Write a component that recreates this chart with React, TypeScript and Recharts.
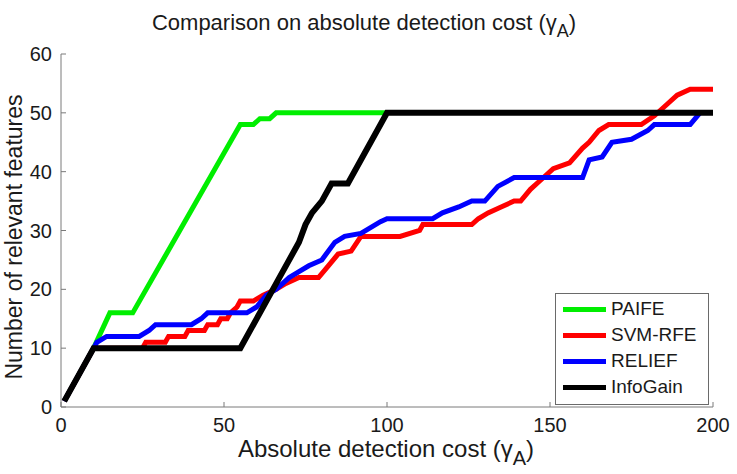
import { LineChart, Line, XAxis, YAxis, Legend } from 'recharts';

const xTicks = [0, 50, 100, 150, 200];
const yTicks = [0, 10, 20, 30, 40, 50, 60];

const seriesNames = ['PAIFE', 'SVM-RFE', 'RELIEF', 'InfoGain'];
const seriesColors = ['#00ee00', '#ff0000', '#0000ff', '#000000'];

// [cost, number of relevant features]
const paife: [number, number][] = [
  [1, 1], [10, 10], [15, 16], [22, 16], [55, 48], [59, 48], [61, 49], [64, 49], [66, 50], [100, 50],
];

const svmRfe: [number, number][] = [
  [1, 1], [10, 10], [25, 10], [26, 11], [32, 11], [33, 12], [38, 12], [39, 13], [44, 13], [45, 14],
  [48, 14], [49, 15], [51, 15], [52, 16], [54, 17], [55, 18], [59, 18], [62, 19], [66, 20], [69, 21],
  [73, 22], [79, 22], [82, 24], [85, 26], [89, 26.5], [92, 29], [104, 29], [110, 30], [111, 31],
  [126, 31], [128, 32], [131, 33], [135, 34], [139, 35], [141, 35], [144, 37], [147, 38.5],
  [151, 40.5], [156, 41.5], [160, 44], [162, 45], [165, 47], [168, 48], [178, 48], [182, 49.5],
  [186, 51.5], [189, 53], [193, 54], [200, 54],
];

const relief: [number, number][] = [
  [1, 1], [10, 10], [11, 11], [14, 12], [24, 12], [27, 13], [29, 14], [40, 14], [43, 15], [45, 16],
  [57, 16], [60, 17], [63, 19], [66, 20], [70, 22], [73, 23], [76, 24], [80, 25], [84, 28], [87, 29],
  [92, 29.5], [98, 31.5], [100, 32], [114, 32], [117, 33], [122, 34], [126, 35], [130, 35],
  [134, 37.5], [139, 39], [160, 39], [162, 42], [166, 42.5], [169, 45], [175, 45.5], [180, 47],
  [182, 48], [193, 48], [196, 50],
];

const infoGain: [number, number][] = [
  [1, 1], [10, 10], [55, 10], [65, 20], [73, 28], [75, 31], [77, 33], [80, 35], [83, 38], [88, 38],
  [93, 43], [100, 50], [200, 50],
];

const allSeries = [paife, svmRfe, relief, infoGain];
const toRows = (pts: [number, number][]) => pts.map(([x, y]) => ({ x, y }));

const FONT = '"Liberation Sans", Arial, Helvetica, sans-serif';
const axisColor = '#7a7a7a';
const tickStyle = { fontSize: 20, fill: '#1a1a1a', fontFamily: FONT };

function LegendBox() {
  return (
    <div
      style={{
        border: '1px solid #6a6a6a',
        background: '#fff',
        width: 152,
        height: 108,
        paddingTop: 2,
        boxSizing: 'content-box',
        fontFamily: FONT,
      }}
    >
      {seriesNames.map((name, i) => (
        <div key={name} style={{ display: 'flex', alignItems: 'center', height: 26 }}>
          <div style={{ width: 43, height: 5, background: seriesColors[i], marginLeft: 7, marginRight: 5 }} />
          <span style={{ fontSize: 19, color: '#1a1a1a' }}>{name}</span>
        </div>
      ))}
    </div>
  );
}

export default function App() {
  return (
    <div style={{ position: 'absolute', left: 0, top: 0, width: 737, height: 474, background: '#fff' }}>
      <LineChart width={737} height={474} margin={{ top: 54, right: 24, bottom: 17, left: 11 }}>
        <XAxis
          xAxisId="b"
          type="number"
          dataKey="x"
          domain={[0, 200]}
          ticks={xTicks}
          height={50}
          tickSize={-5}
          tickMargin={16}
          stroke={axisColor}
          tick={tickStyle}
          allowDuplicatedCategory={false}
        />
        <XAxis
          xAxisId="t"
          orientation="top"
          type="number"
          dataKey="x"
          domain={[0, 200]}
          ticks={xTicks}
          height={0}
          tickSize={-5}
          stroke={axisColor}
          tickFormatter={() => ''}
        />
        <YAxis
          yAxisId="l"
          type="number"
          domain={[0, 60]}
          ticks={yTicks}
          width={50}
          tickSize={-5}
          tickMargin={14}
          stroke={axisColor}
          tick={tickStyle}
        />
        <YAxis
          yAxisId="r"
          orientation="right"
          type="number"
          domain={[0, 60]}
          ticks={yTicks}
          width={0}
          tickSize={-5}
          stroke={axisColor}
          tickFormatter={() => ''}
        />
        {allSeries.map((pts, i) => (
          <Line
            key={seriesNames[i]}
            xAxisId="b"
            yAxisId="l"
            data={toRows(pts)}
            dataKey="y"
            name={seriesNames[i]}
            stroke={seriesColors[i]}
            strokeWidth={i === 3 ? 6 : 5}
            dot={false}
            activeDot={false}
            isAnimationActive={false}
          />
        ))}
        <Legend
          layout="vertical"
          align="center"
          verticalAlign="middle"
          content={() => <LegendBox />}
          wrapperStyle={{ left: 555, top: 293, width: 154, height: 111 }}
        />
      </LineChart>
      <svg
        width={737}
        height={474}
        style={{ position: 'absolute', left: 0, top: 0, pointerEvents: 'none' }}
        fontFamily={FONT}
        fill="#1a1a1a"
      >
        <text x={364} y={30} fontSize={22} textAnchor="middle">
          Comparison on absolute detection cost (γ
          <tspan fontSize={18} dy={7}>A</tspan>
          <tspan dy={-7}>)</tspan>
        </text>
        <text x={386} y={457} fontSize={24} textAnchor="middle">
          Absolute detection cost (γ
          <tspan fontSize={20} dy={8}>A</tspan>
          <tspan dy={-8}>)</tspan>
        </text>
        <text x={22} y={237} fontSize={23} textAnchor="middle" transform="rotate(-90 22 237)">
          Number of relevant features
        </text>
      </svg>
    </div>
  );
}
